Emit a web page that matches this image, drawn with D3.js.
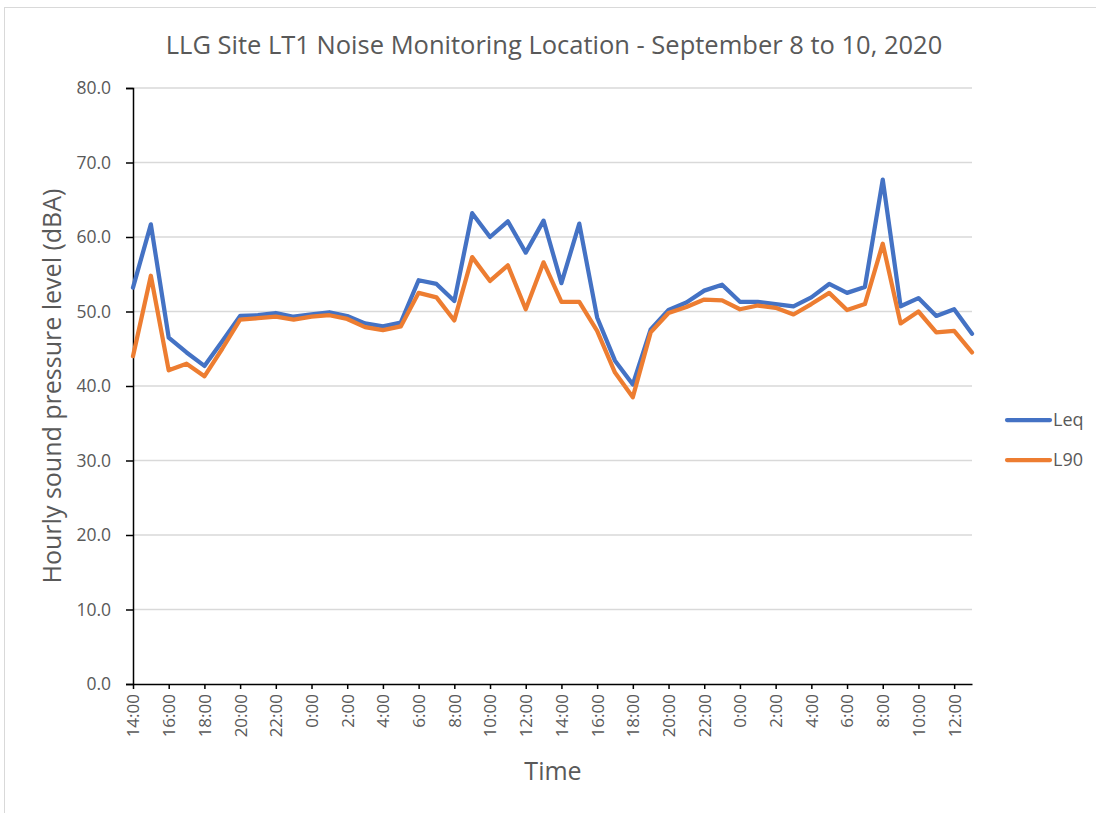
<!DOCTYPE html>
<html>
<head>
<meta charset="utf-8">
<script src="https://cdnjs.cloudflare.com/ajax/libs/d3/7.8.5/d3.min.js"></script>
<style>
	body { margin: 0; background: #fff; }
	.chart text { fill: #595959; font-family: "Open Sans", "Liberation Sans", sans-serif; }
</style>
</head>
<body>
<div class="chart"></div>
<script>
// hourly readings, Sept 8 14:00 -> Sept 10 13:00
const times = [
	"14:00", "15:00", "16:00", "17:00", "18:00", "19:00", "20:00", "21:00", "22:00", "23:00",
	"0:00", "1:00", "2:00", "3:00", "4:00", "5:00", "6:00", "7:00", "8:00", "9:00",
	"10:00", "11:00", "12:00", "13:00", "14:00", "15:00", "16:00", "17:00", "18:00", "19:00",
	"20:00", "21:00", "22:00", "23:00", "0:00", "1:00", "2:00", "3:00", "4:00", "5:00",
	"6:00", "7:00", "8:00", "9:00", "10:00", "11:00", "12:00", "13:00"
];
const leq = [
	53.2, 61.7, 46.5, 44.5, 42.7, 46.0, 49.4, 49.5, 49.8, 49.3,
	49.6, 49.9, 49.4, 48.4, 48.0, 48.5, 54.2, 53.7, 51.4, 63.2,
	60.0, 62.1, 57.9, 62.2, 53.8, 61.8, 49.2, 43.4, 40.2, 47.6,
	50.2, 51.2, 52.8, 53.6, 51.3, 51.3, 51.0, 50.7, 51.9, 53.7,
	52.5, 53.3, 67.7, 50.7, 51.8, 49.4, 50.3, 47.0
];
const l90 = [
	44.0, 54.8, 42.1, 43.0, 41.3, 45.0, 48.9, 49.1, 49.3, 48.9,
	49.3, 49.5, 49.0, 47.9, 47.5, 48.0, 52.5, 51.9, 48.8, 57.3,
	54.1, 56.2, 50.3, 56.6, 51.3, 51.3, 47.4, 41.8, 38.5, 47.2,
	49.8, 50.6, 51.6, 51.5, 50.3, 50.8, 50.5, 49.6, 51.0, 52.5,
	50.2, 51.0, 59.1, 48.4, 50.0, 47.2, 47.4, 44.5
];
const yTicks = [0, 10, 20, 30, 40, 50, 60, 70, 80];
const seriesNames = ["Leq", "L90"];
const seriesColors = ["#4472C4", "#ED7D31"];

const width = 1096, height = 813;
const plot = { left: 133, right: 972, top: 88, bottom: 684 };

const svg = d3.select(".chart")
	.append("svg")
	.attr("width", width)
	.attr("height", height);

// outer chart border
svg.append("rect")
	.attr("x", 4.5).attr("y", 7.5)
	.attr("width", width).attr("height", height)
	.attr("fill", "none")
	.attr("stroke", "#d9d9d9");

const x = d3.scaleLinear().domain([0, times.length - 1]).range([plot.left, plot.right]);
const y = d3.scaleLinear().domain([0, 80]).range([plot.bottom, plot.top]);

// gridlines
svg.append("g")
	.selectAll("line")
	.data(yTicks.filter((d) => d > 0))
	.enter()
	.append("line")
	.attr("x1", plot.left).attr("x2", plot.right)
	.attr("y1", (d) => y(d)).attr("y2", (d) => y(d))
	.attr("stroke", "#d9d9d9")
	.attr("stroke-width", 1.5);

// y axis
const yAxis = svg.append("g")
	.attr("transform", `translate(${plot.left},0)`)
	.call(d3.axisLeft(y).tickValues(yTicks).tickFormat(d3.format(".1f")).tickSize(7).tickPadding(15));
yAxis.select(".domain").attr("stroke", "#000").attr("stroke-width", 1.5);
yAxis.selectAll(".tick line").attr("stroke", "#000").attr("stroke-width", 1.5);
yAxis.selectAll("text").style("font-size", "17.5px");

// x axis, label every 2 hours
const evenIdx = d3.range(0, times.length, 2);
const xAxis = svg.append("g")
	.attr("transform", `translate(0,${plot.bottom})`)
	.call(d3.axisBottom(x).tickValues(evenIdx).tickFormat((i) => times[i]).tickSize(5).tickSizeOuter(0));
xAxis.select(".domain").attr("stroke", "#000").attr("stroke-width", 1.5);
xAxis.selectAll(".tick line").attr("stroke", "#000").attr("stroke-width", 1.5);
xAxis.selectAll("text")
	.style("font-size", "17px")
	.attr("text-anchor", "end")
	.attr("dy", "0.35em")
	.attr("transform", "translate(0,10) rotate(-90)")
	.attr("x", 0)
	.attr("y", 0);

// lines
const line = d3.line()
	.x((d, i) => x(i))
	.y((d) => y(d));

[leq, l90].forEach((vals, k) => {
	svg.append("path")
		.datum(vals)
		.attr("d", line)
		.attr("fill", "none")
		.attr("stroke", seriesColors[k])
		.attr("stroke-width", 4.25)
		.attr("stroke-linejoin", "round")
		.attr("stroke-linecap", "round");
});

// titles
svg.append("text")
	.attr("x", 554).attr("y", 54)
	.attr("text-anchor", "middle")
	.style("font-size", "25.5px")
	.text("LLG Site LT1 Noise Monitoring Location - September 8 to 10, 2020");

svg.append("text")
	.attr("x", 553).attr("y", 780)
	.attr("text-anchor", "middle")
	.style("font-size", "25px")
	.text("Time");

svg.append("text")
	.attr("transform", "translate(61,386) rotate(-90)")
	.attr("text-anchor", "middle")
	.style("font-size", "25px")
	.text("Hourly sound pressure level (dBA)");

// legend
const legend = svg.append("g")
	.selectAll("g")
	.data(seriesNames)
	.enter()
	.append("g")
	.attr("transform", (d, i) => `translate(1005,${420 + i * 40})`);
legend.append("line")
	.attr("x1", 2).attr("x2", 45)
	.attr("stroke", (d, i) => seriesColors[i])
	.attr("stroke-width", 4.25)
	.attr("stroke-linecap", "round");
legend.append("text")
	.attr("x", 48).attr("dy", "0.35em")
	.style("font-size", "18px")
	.text((d) => d);
</script>
</body>
</html>
